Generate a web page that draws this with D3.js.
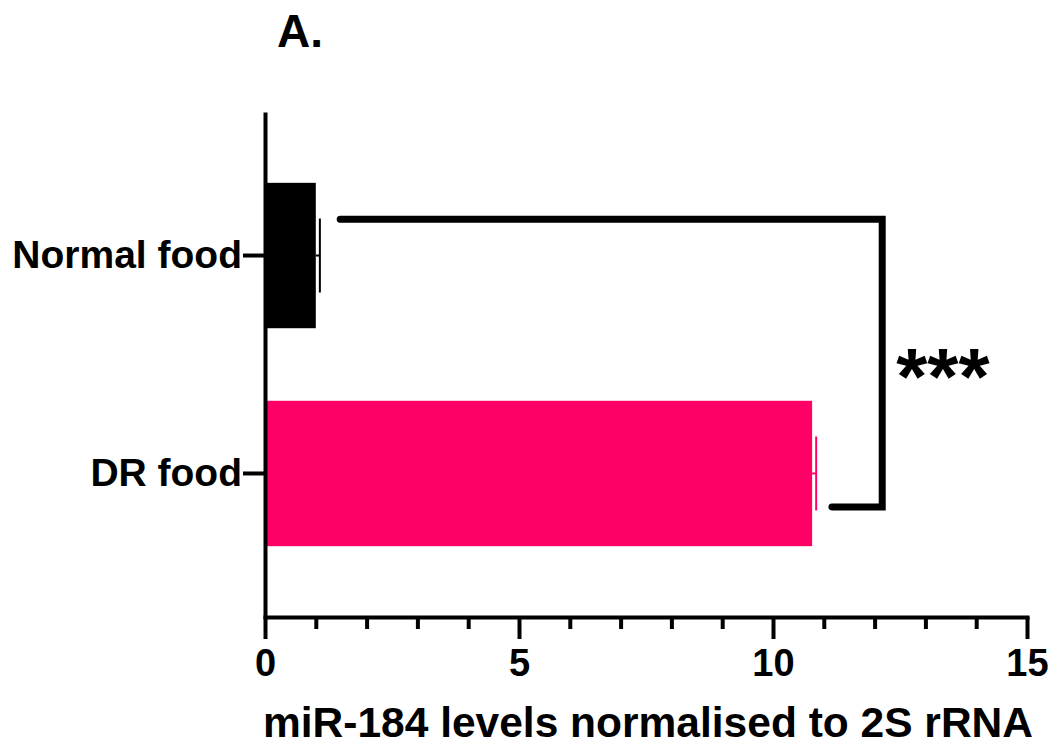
<!DOCTYPE html>
<html>
<head>
<meta charset="utf-8">
<script src="https://cdn.jsdelivr.net/npm/d3@7"></script>
<style>
  body { margin: 0; background: #fff; }
  svg { font-family: "Liberation Sans", Arial, sans-serif; font-weight: bold; }
</style>
</head>
<body>
<div id="wrapper"></div>
<script>
// data
const categories = ["Normal food", "DR food"];
const means = [1.0, 10.77];
const errorTops = [1.08, 10.85];
const barColors = ["#000000", "#ff0066"];
const majorTicks = [0, 5, 10, 15];
const minorTicks = d3.range(0, 16);
const bracketX = [1.48, 12.15, 11.16]; // start, vertical, end (data units)
const sigLabel = "***";

function drawChart() {

  // 1. dimensions

  const width = 1055;
  let dimensions = {
    width: width,
    height: 750,
    margin: { top: 112, right: 28, bottom: 133, left: 265 },
  };
  dimensions.boundedWidth = dimensions.width - dimensions.margin.left - dimensions.margin.right;
  dimensions.boundedHeight = dimensions.height - dimensions.margin.top - dimensions.margin.bottom;

  // 2. canvas

  const wrapper = d3.select("#wrapper")
    .append("svg")
      .attr("width", dimensions.width)
      .attr("height", dimensions.height);

  const bounds = wrapper.append("g")
      .attr("transform", `translate(${dimensions.margin.left},${dimensions.margin.top})`);

  // 3. scales

  const xScale = d3.scaleLinear()
    .domain([0, 15])
    .range([0, dimensions.boundedWidth]);

  const yScale = d3.scaleBand()
    .domain(categories)
    .range([0, dimensions.boundedHeight])
    .paddingInner(0.333)
    .paddingOuter(0.325);

  const bw = yScale.bandwidth();

  // 4. bars + error bars

  const rows = categories.map((c, i) => ({ cat: c, mean: means[i], top: errorTops[i], color: barColors[i] }));

  const groups = bounds.selectAll(".bar")
    .data(rows)
    .join("g")
      .attr("class", "bar");

  groups.append("rect")
      .attr("x", xScale(0))
      .attr("y", d => yScale(d.cat))
      .attr("width", d => xScale(d.mean) - xScale(0))
      .attr("height", bw)
      .attr("fill", d => d.color);

  groups.append("line")
      .attr("x1", d => xScale(d.mean))
      .attr("x2", d => xScale(d.top))
      .attr("y1", d => yScale(d.cat) + bw / 2)
      .attr("y2", d => yScale(d.cat) + bw / 2)
      .attr("stroke", d => d.color)
      .attr("stroke-width", 2);

  groups.append("line")
      .attr("x1", d => xScale(d.top))
      .attr("x2", d => xScale(d.top))
      .attr("y1", d => yScale(d.cat) + bw / 2 - 37)
      .attr("y2", d => yScale(d.cat) + bw / 2 + 37)
      .attr("stroke", d => d.color)
      .attr("stroke-width", 2);

  // 5. axes

  const xAxis = bounds.append("g")
      .attr("transform", `translate(0,${dimensions.boundedHeight})`)
      .call(d3.axisBottom(xScale).tickValues(majorTicks).tickSize(22).tickSizeOuter(0).tickPadding(10).tickFormat(d3.format("d")));

  xAxis.select(".domain").attr("stroke-width", 4).attr("stroke-linecap", "square");
  xAxis.selectAll(".tick line").attr("stroke-width", 4);
  xAxis.selectAll(".tick text")
      .attr("fill", "#000")
      .style("font-size", "38px")
      .style("font-family", "'Liberation Sans', Arial, sans-serif")
      .style("font-weight", "bold");

  const minorAxis = bounds.append("g")
      .attr("transform", `translate(0,${dimensions.boundedHeight})`)
      .call(d3.axisBottom(xScale).tickValues(minorTicks.filter(t => t % 5 !== 0)).tickSize(12).tickFormat(""));
  minorAxis.select(".domain").remove();
  minorAxis.selectAll(".tick line").attr("stroke-width", 4);

  const yAxis = bounds.append("g")
      .call(d3.axisLeft(yScale).tickSize(22).tickSizeOuter(0).tickPadding(1));

  yAxis.select(".domain").attr("stroke-width", 4);
  yAxis.selectAll(".tick line").attr("stroke-width", 4);
  yAxis.selectAll(".tick text")
      .attr("fill", "#000")
      .style("font-size", "39px")
      .style("font-family", "'Liberation Sans', Arial, sans-serif")
      .style("font-weight", "bold");

  // 6. significance bracket

  const yTop = yScale(categories[0]) + bw * 0.25;
  const yBottom = yScale(categories[1]) + bw * 0.73;
  const bracket = d3.path();
  bracket.moveTo(xScale(bracketX[0]), yTop);
  bracket.lineTo(xScale(bracketX[1]), yTop);
  bracket.lineTo(xScale(bracketX[1]), yBottom);
  bracket.lineTo(xScale(bracketX[2]), yBottom);

  bounds.append("path")
      .attr("d", bracket.toString())
      .attr("fill", "none")
      .attr("stroke", "#000")
      .attr("stroke-width", 7)
      .attr("stroke-linecap", "round")
      .attr("stroke-linejoin", "miter");

  bounds.append("text")
      .attr("x", xScale(bracketX[1]) + 14)
      .attr("y", (yTop + yBottom) / 2 + 41)
      .style("font-size", "80px")
      .text(sigLabel);

  // 7. labels

  wrapper.append("text")
      .attr("x", 277)
      .attr("y", 47)
      .style("font-size", "46px")
      .text("A.");

  wrapper.append("text")
      .attr("x", dimensions.margin.left + dimensions.boundedWidth / 2 + 2)
      .attr("y", 737)
      .attr("text-anchor", "middle")
      .style("font-size", "42.5px")
      .text("miR-184 levels normalised to 2S rRNA");
}
drawChart();
</script>
</body>
</html>
